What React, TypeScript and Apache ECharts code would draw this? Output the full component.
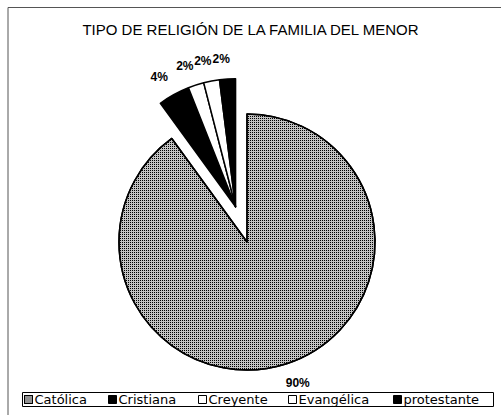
import React, { useEffect, useRef } from 'react';
import * as echarts from 'echarts';

const TITLE = 'TIPO DE RELIGIÓN DE LA FAMILIA DEL MENOR';
const categories = ['Católica', 'Cristiana', 'Creyente', 'Evangélica', 'protestante'];
const values = [90, 4, 2, 2, 2];
const fills = ['#c2c2c2', '#000000', '#ffffff', '#ffffff', '#000000'];
const legendLeft = [24, 108, 198, 288, 393];

export default function App() {
  const ref = useRef<HTMLDivElement>(null);
  useEffect(() => {
    const chart = echarts.init(ref.current!, null, { renderer: 'svg' });
    const total = values.reduce((a, b) => a + b, 0);
    const mainValue = values[0];
    const restValue = total - mainValue;
    const cx = 247;
    const cy = 242;
    const R = 128;
    const explode = 37;
    const theta = ((mainValue + restValue / 2) / total) * 2 * Math.PI;
    const ex = cx + Math.sin(theta) * explode;
    const ey = cy - Math.cos(theta) * explode;

    const decal = {
      symbol: 'rect',
      symbolSize: 1,
      color: '#000000',
      dashArrayX: [1, 1],
      dashArrayY: [1, 1],
      rotation: 0,
    };
    const styleFor = (i: number) => ({
      color: fills[i],
      borderColor: '#000',
      borderWidth: 1.5,
      ...(i === 0 ? { decal } : {}),
    });
    const placeholder = (name: string, value: number) => ({
      name,
      value,
      itemStyle: { color: 'rgba(0,0,0,0)', borderWidth: 0, decal: 'none' },
      label: { show: false },
      labelLine: { show: false },
    });
    const centerLabel = (p: any) => {
      const r = p.labelRect;
      const ax = p.align === 'right' ? r.x + r.width : p.align === 'center' ? r.x + r.width / 2 : r.x;
      return { x: ax, y: r.y + r.height / 2, align: 'center', verticalAlign: 'middle' };
    };
    const common = {
      type: 'pie',
      radius: R,
      startAngle: 90,
      clockwise: true,
      avoidLabelOverlap: false,
      silent: true,
      label: {
        show: true,
        position: 'outside',
        formatter: '{c}%',
        fontFamily: 'Liberation Sans, Arial, sans-serif',
        fontSize: 12,
        fontWeight: 'bold',
        color: '#000',
      },
      labelLine: { show: false, length: 20, length2: 0 },
      emphasis: { disabled: true },
      labelLayout: centerLabel,
    };

    chart.setOption({
      animation: false,
      backgroundColor: '#ffffff',
      title: {
        text: TITLE,
        left: 'center',
        top: 17,
        textStyle: {
          fontFamily: 'Liberation Sans, Arial, sans-serif',
          fontSize: 15,
          fontWeight: 'normal',
          color: '#000',
        },
      },
      legend: categories.map((name, i) => ({
        data: [name],
        left: legendLeft[i],
        top: 393,
        padding: 0,
        itemWidth: 8,
        itemHeight: 8,
        icon: 'rect',
        selectedMode: false,
        itemStyle: { borderColor: '#000', borderWidth: 1 },
        textStyle: {
          fontFamily: 'DejaVu Sans, sans-serif',
          fontSize: 13,
          color: '#000',
          padding: [0, 0, 0, -3],
        },
      })),
      graphic: [
        { type: 'line', shape: { x1: 8, y1: 7.5, x2: 501, y2: 7.5 }, style: { stroke: '#555', lineWidth: 1 } },
        { type: 'line', shape: { x1: 8, y1: 7.5, x2: 8, y2: 415 }, style: { stroke: '#555', lineWidth: 1 } },
        {
          type: 'rect',
          shape: { x: 22.5, y: 392.5, width: 471, height: 14 },
          style: { fill: 'none', stroke: '#000', lineWidth: 1 },
          z: 10,
        },
      ],
      series: [
        {
          ...common,
          name: 'main',
          center: [cx, cy],
          data: [
            { name: categories[0], value: values[0], itemStyle: styleFor(0) },
            placeholder('__rest', restValue),
          ],
        },
        {
          ...common,
          name: 'exploded',
          center: [ex, ey],
          data: [
            placeholder('__main', mainValue),
            ...categories.slice(1).map((name, k) => ({
              name,
              value: values[k + 1],
              itemStyle: styleFor(k + 1),
            })),
          ],
        },
      ],
    });
    return () => chart.dispose();
  }, []);
  return (
    <div
      ref={ref}
      style={{ position: 'fixed', left: 0, top: 0, width: 501, height: 415 }}
    />
  );
}
